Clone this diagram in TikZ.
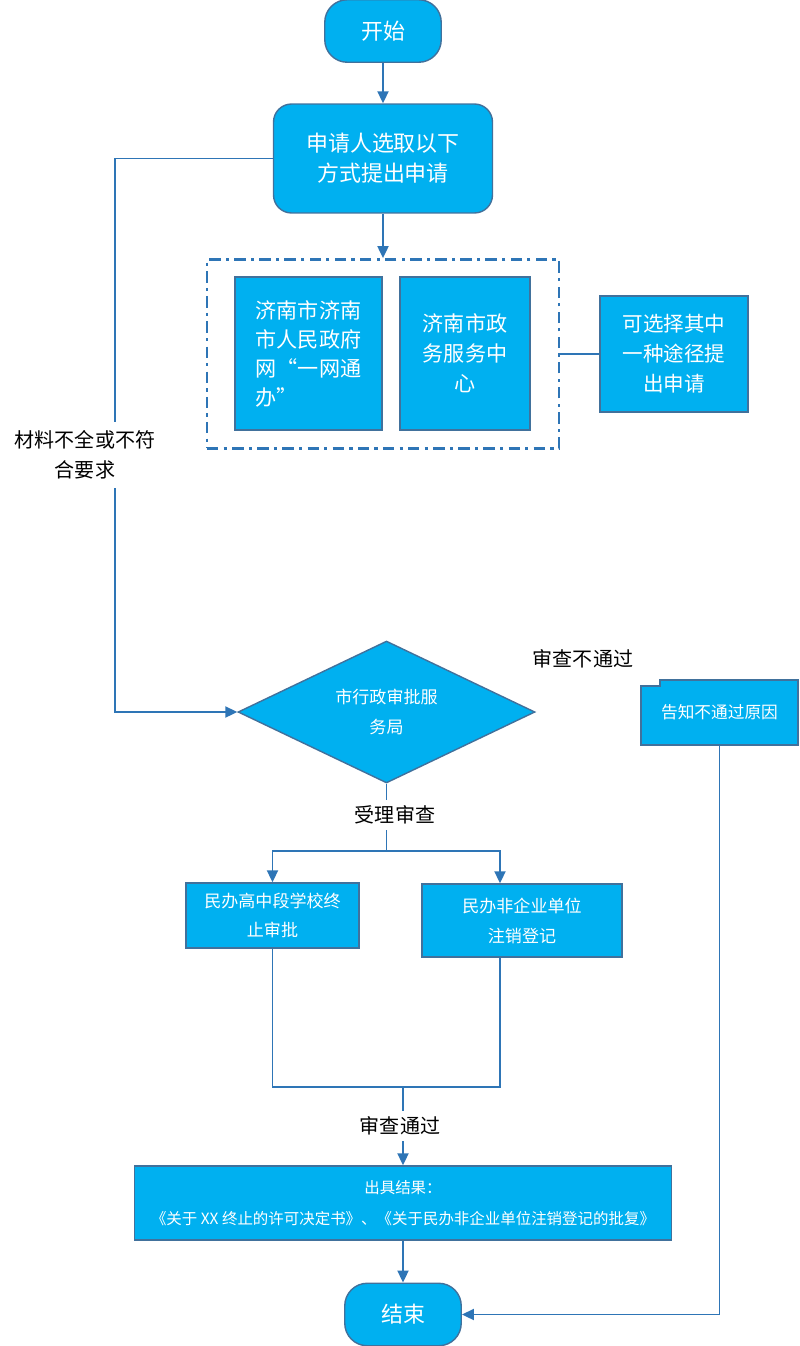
\documentclass[tikz,border=0pt]{standalone}
\usepackage{fontspec}
\setmainfont{Noto Sans CJK SC}
\usepackage{xcolor}
\usetikzlibrary{shapes.geometric, arrows.meta, calc}
\definecolor{boxfill}{HTML}{00B0F0}
\definecolor{boxline}{HTML}{41719C}
\definecolor{flowline}{HTML}{2E75B6}
\tikzstyle{startstop} = [rectangle, rounded corners=0.45cm, minimum width=2.33cm, minimum height=1.25cm, text centered, draw=boxline, fill=boxfill, text=white, line width=0.8pt, font=\fontsize{12.5}{17}\selectfont]
\tikzstyle{process} = [rectangle, inner sep=0pt, align=center, draw=boxline, fill=boxfill, text=white, line width=0.8pt]
\tikzstyle{decision} = [diamond, inner sep=0pt, aspect=2.09, align=center, draw=boxline, fill=boxfill, text=white, line width=0.8pt]
\tikzstyle{dashgroup} = [rectangle, draw=flowline, line width=1.6pt, dash pattern=on 6.5pt off 3pt on 1.8pt off 3pt]
\tikzstyle{note} = [text=black, align=center, font=\fontsize{11.4}{17}\selectfont]
\tikzstyle{link} = [line width=1.1pt, draw=flowline]
\tikzstyle{arrow} = [link, -{Triangle[length=0.24cm, width=0.22cm]}]

\begin{document}
\begin{tikzpicture}[x=0.02cm, y=-0.02cm]
   \useasboundingbox (0,0) rectangle (800,1346);
   % upper part
   \node (start) [startstop] at (383,31) {开始};
   \node (apply) [process, rounded corners=0.36cm, minimum width=4.38cm, minimum height=2.18cm, font=\fontsize{12.5}{17}\selectfont] at (383,158.5) {申请人选取以下\\方式提出申请};
   \node (options) [dashgroup, minimum width=7.04cm, minimum height=3.78cm] at (383,354) {};
   \node (online) [process, align=left, minimum width=2.94cm, minimum height=3.06cm, font=\fontsize{12}{16.5}\selectfont] at (308.5,353.5) {济南市济南\\市人民政府\\网“一网通\\办”};
   \node (hall) [process, minimum width=2.6cm, minimum height=3.06cm, font=\fontsize{12}{17}\selectfont] at (465,353.5) {济南市政\\务服务中\\心};
   \node (choose) [process, minimum width=2.96cm, minimum height=2.32cm, font=\fontsize{11.7}{17}\selectfont] at (674,354) {可选择其中\\一种途径提\\出申请};
   % review
   \node (review) [decision, minimum width=5.94cm, minimum height=2.84cm, font=\fontsize{9.7}{17}\selectfont] at (386.5,712) {市行政审批服\\务局};
   \node (fail) [note] at (583,659) {审查不通过};
   \filldraw [draw=boxline, fill=boxfill, line width=0.8pt] (641,686) -- (660,686) -- (660,680) -- (798,680) -- (798,745) -- (641,745) -- cycle;
   \node (reason) [inner sep=0pt, minimum width=3.14cm, minimum height=1.3cm, text=white, font=\fontsize{9.5}{17}\selectfont] at (719.5,712.5) {告知不通过原因};
   \node (accept) [note] at (395,815) {受理审查};
   \coordinate (split) at (386.5,851);
   \node (school) [process, minimum width=3.46cm, minimum height=1.3cm, font=\fontsize{9.7}{16.5}\selectfont] at (272.5,915.5) {民办高中段学校终\\止审批};
   \node (unit) [process, minimum width=4cm, minimum height=1.46cm, font=\fontsize{9.7}{17}\selectfont] at (522,920.5) {民办非企业单位\\注销登记};
   % lower part
   \coordinate (merge) at (403,1087);
   \node (passed) [note] at (400,1126) {审查通过};
   \node (result) [process, minimum width=10.74cm, minimum height=1.48cm, font=\fontsize{8.8}{18}\selectfont] at (403,1203) {出具结果：\\《关于 XX 终止的许可决定书》、《关于民办非企业单位注销登记的批复》};
   \node (finish) [startstop] at (403,1314.5) {结束};
   % connectors
   \draw [arrow] (start) -- (apply);
   \draw [arrow] (apply) -- (options);
   \draw [link] (options) -- (choose);
   \draw [arrow] (apply.west) -- ++(-158,0) |- (review.west);
   \node (lack) [note, fill=white, inner sep=5pt] at (85,455) {材料不全或不符\\合要求};
   \draw [link] (review.south) -- (review.south |- accept.north);
   \draw [link] (review.south |- accept.south) -- (split);
   \draw [arrow] (split) -| (school.north);
   \draw [arrow] (split) -| ($(unit.north)+(-22,0)$);
   \draw [link] (school.south) |- (merge);
   \draw [link] ($(unit.south)+(-22,0)$) |- (merge);
   \draw [link] (merge) -- (merge |- passed.north);
   \draw [arrow] (merge |- passed.south) -- (result.north);
   \draw [arrow] (result.south) -- (finish.north);
   \draw [arrow] (reason.south) |- (finish.east);
\end{tikzpicture}
\end{document}
